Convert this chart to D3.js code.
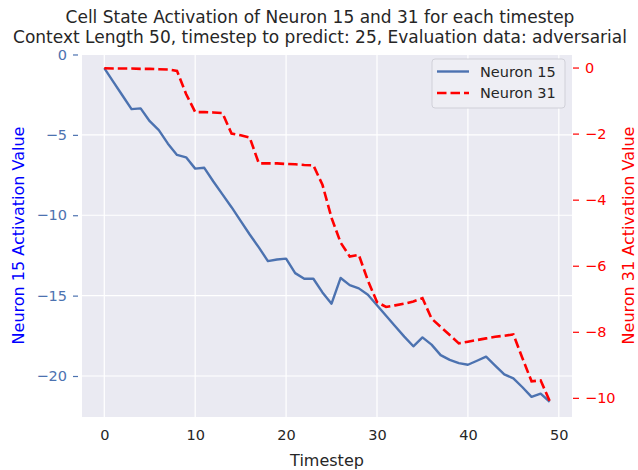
<!DOCTYPE html>
<html>
<head>
<meta charset="utf-8">
<script src="https://cdn.jsdelivr.net/npm/d3@7"></script>
<style>
  body { margin: 0; background: white; }
  text { font-family: "DejaVu Sans", sans-serif; }
</style>
</head>
<body>
<div id="chart"></div>
<script>
// values, one per timestep
var timesteps = d3.range(0, 50);
var neuron15 = [-0.85, -1.7, -2.55, -3.4, -3.35, -4.15, -4.7, -5.55, -6.25, -6.4,
                -7.1, -7.05, -7.9, -8.7, -9.5, -10.35, -11.2, -12.0, -12.85, -12.75,
                -12.7, -13.6, -13.95, -13.95, -14.8, -15.5, -13.9, -14.35, -14.55, -14.95,
                -15.6, -16.25, -16.9, -17.55, -18.15, -17.6, -18.05, -18.7, -19.0, -19.2,
                -19.3, -19.05, -18.8, -19.35, -19.9, -20.15, -20.7, -21.3, -21.1, -21.6];
var neuron31 = [-0.02, -0.03, -0.03, -0.03, -0.04, -0.04, -0.05, -0.06, -0.1, -0.8,
                -1.35, -1.35, -1.36, -1.38, -2.0, -2.05, -2.12, -2.9, -2.9, -2.9,
                -2.92, -2.93, -2.95, -2.96, -3.55, -4.55, -5.3, -5.72, -5.67, -6.45,
                -7.1, -7.25, -7.2, -7.15, -7.08, -6.98, -7.6, -7.85, -8.1, -8.35,
                -8.3, -8.25, -8.2, -8.15, -8.12, -8.08, -8.8, -9.5, -9.47, -10.1];
var xTicks = [0, 10, 20, 30, 40, 50];
var leftTicks = [0, -5, -10, -15, -20];
var rightTicks = [0, -2, -4, -6, -8, -10];
var titleLines = ["Cell State Activation of Neuron 15 and 31 for each timestep",
                  "Context Length 50, timestep to predict: 25, Evaluation data: adversarial"];

var W = 638, H = 470;
// plot box edges (window.top is read only, so own names here)
var pL = 82, pR = 572, pT = 54, pB = 417;

var svg = d3.select("#chart").append("svg")
    .attr("width", W)
    .attr("height", H);

var x = d3.scaleLinear().domain([-2.45, 51.45]).range([pL, pR]);
var yL = d3.scaleLinear().domain([-22.55, 0.03]).range([pB, pT]);
var yR = d3.scaleLinear().domain([-10.58, 0.41]).range([pB, pT]);

// seaborn darkgrid background
svg.append("rect")
    .attr("x", pL)
    .attr("y", pT)
    .attr("width", pR - pL)
    .attr("height", pB - pT)
    .attr("fill", "#eaeaf2");

// white gridlines, x and left axis only
svg.append("g").selectAll("line").data(xTicks).join("line")
    .attr("x1", d => x(d)).attr("x2", d => x(d))
    .attr("y1", pT).attr("y2", pB)
    .style("stroke", "white").style("stroke-width", 1.2);
svg.append("g").selectAll("line").data(leftTicks).join("line")
    .attr("x1", pL).attr("x2", pR)
    .attr("y1", d => yL(d)).attr("y2", d => yL(d))
    .style("stroke", "white").style("stroke-width", 1.2);

function fmt(v) {
    return v < 0 ? "\u2212" + Math.abs(v) : "" + v;
}

// bottom axis
var xAxis = d3.axisBottom(x).tickValues(xTicks).tickSize(0).tickPadding(13);
var gx = svg.append("g").attr("transform", "translate(0," + pB + ")").call(xAxis);
gx.select(".domain").remove();
gx.selectAll("text").style("font-size", "14.5px").style("fill", "#262626")
    .style("font-family", "DejaVu Sans");

// left axis
var lAxis = d3.axisLeft(yL).tickValues(leftTicks).tickSize(5).tickPadding(6).tickFormat(fmt);
var gl = svg.append("g").attr("transform", "translate(" + (pL - 4) + ",0)").call(lAxis);
gl.select(".domain").remove();
gl.selectAll("line").style("stroke", "#4c72b0").style("stroke-width", 1.2);
gl.selectAll("text").style("font-size", "14.5px").style("fill", "#4c72b0")
    .style("font-family", "DejaVu Sans");

// right axis
var rAxis = d3.axisRight(yR).tickValues(rightTicks).tickSize(6).tickPadding(6).tickFormat(fmt);
var gr = svg.append("g").attr("transform", "translate(" + (pR + 1) + ",0)").call(rAxis);
gr.select(".domain").remove();
gr.selectAll("line").style("stroke", "red").style("stroke-width", 1.2);
gr.selectAll("text").style("font-size", "14.5px").style("fill", "red")
    .style("font-family", "DejaVu Sans");

// the two series
var line15 = d3.line().x((d, i) => x(timesteps[i])).y(d => yL(d));
var line31 = d3.line().x((d, i) => x(timesteps[i])).y(d => yR(d));

svg.append("path")
    .attr("d", line15(neuron15))
    .style("fill", "none")
    .style("stroke", "#4c72b0")
    .style("stroke-width", 2.4)
    .style("stroke-linejoin", "round");

svg.append("path")
    .attr("d", line31(neuron31))
    .style("fill", "none")
    .style("stroke", "red")
    .style("stroke-width", 2.6)
    .style("stroke-dasharray", "9.5,4");

// titles and axis labels
svg.append("text")
    .attr("x", 320).attr("y", 23)
    .attr("text-anchor", "middle")
    .style("font-size", "17px").style("fill", "#262626")
    .selectAll("tspan").data(titleLines).join("tspan")
    .attr("x", 320)
    .attr("dy", (d, i) => i == 0 ? 0 : 20)
    .text(d => d);

svg.append("text")
    .attr("x", (pL + pR) / 2).attr("y", 466)
    .attr("text-anchor", "middle")
    .style("font-size", "16px").style("fill", "#262626")
    .text("Timestep");

svg.append("text")
    .attr("transform", "translate(24," + ((pT + pB) / 2) + ") rotate(-90)")
    .attr("text-anchor", "middle")
    .style("font-size", "16px").style("fill", "blue")
    .text("Neuron 15 Activation Value");

svg.append("text")
    .attr("transform", "translate(634," + ((pT + pB) / 2) + ") rotate(-90)")
    .attr("text-anchor", "middle")
    .style("font-size", "16px").style("fill", "red")
    .text("Neuron 31 Activation Value");

// legend in the upper right corner
var lg = svg.append("g");
lg.append("rect")
    .attr("x", 432).attr("y", 59)
    .attr("width", 133).attr("height", 49)
    .attr("rx", 3)
    .attr("fill", "#eeeef4")
    .attr("stroke", "#d0d0d8");
var entries = [{name: "Neuron 15", color: "#4c72b0", dash: null},
               {name: "Neuron 31", color: "red", dash: "9.5,4"}];
entries.forEach(function(e, i) {
    var yy = 71.5 + i * 21.5;
    lg.append("line")
        .attr("x1", 437).attr("x2", 469)
        .attr("y1", yy).attr("y2", yy)
        .style("stroke", e.color)
        .style("stroke-width", i == 0 ? 2.4 : 2.6)
        .style("stroke-dasharray", e.dash);
    lg.append("text")
        .attr("x", 480).attr("y", yy + 5)
        .style("font-size", "14.5px").style("fill", "#262626")
        .text(e.name);
});
</script>
</body>
</html>
